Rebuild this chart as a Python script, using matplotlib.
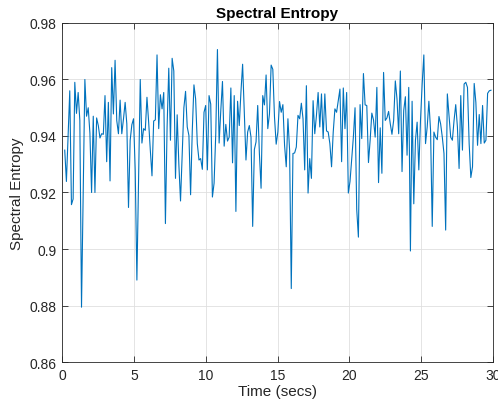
import numpy as np
import matplotlib
matplotlib.use("Agg")
import matplotlib.pyplot as plt
from matplotlib.ticker import FuncFormatter

plt.rcParams['font.family'] = ['Liberation Sans', 'DejaVu Sans']

# Spectral entropy per analysis frame
entropy_0_6 = [
    0.935, 0.9239, 0.940, 0.956, 0.9157, 0.9177, 0.959, 0.948, 0.9554, 0.9455,
    0.8794, 0.920, 0.960, 0.947, 0.950, 0.941, 0.920, 0.947, 0.920, 0.9464,
    0.9437, 0.9393, 0.9408, 0.9406, 0.9543, 0.9309, 0.9519, 0.9241, 0.9642, 0.9478,
    0.9668, 0.9455, 0.9408, 0.9527, 0.9408, 0.9460, 0.9519, 0.9443, 0.9147, 0.9385,
    0.9440, 0.9461, 0.928, 0.889, 0.925, 0.960, 0.9375, 0.9426, 0.942, 0.9537,
]
entropy_6_12 = [
    0.9450, 0.9350, 0.9259, 0.9453, 0.9457, 0.9687, 0.9426, 0.9546, 0.9496, 0.9554,
    0.9090, 0.9432, 0.9640, 0.9385, 0.9675, 0.9630, 0.9250, 0.9475, 0.9300, 0.9170,
    0.9338, 0.9500, 0.9558, 0.9432, 0.9402, 0.9192, 0.9418, 0.9581, 0.9531, 0.9373,
    0.9315, 0.9320, 0.9282, 0.9484, 0.9508, 0.9280, 0.9543, 0.9513, 0.9184, 0.9233,
    0.9408, 0.9706, 0.9375, 0.9490, 0.9593, 0.9364, 0.9441, 0.9382, 0.9396, 0.9570,
    0.9305,
]
entropy_12_18 = [
    0.9543, 0.9133, 0.9523, 0.9437, 0.9555, 0.9654, 0.9484, 0.9315, 0.9414, 0.9437,
    0.9396, 0.9080, 0.9352, 0.9379, 0.9508, 0.9338, 0.9215, 0.9543, 0.9510, 0.9616,
    0.9426, 0.9478, 0.9651, 0.9636, 0.9467, 0.9371, 0.9414, 0.9522, 0.9484, 0.9511,
    0.9367, 0.9291, 0.9461, 0.9350, 0.8860, 0.9338, 0.9340, 0.9361, 0.9473, 0.9461,
    0.9516, 0.9461, 0.9280, 0.9578, 0.9198, 0.9320, 0.9250, 0.9525, 0.9408, 0.9473,
    0.9554,
]
entropy_18_24 = [
    0.9432, 0.9549, 0.9391, 0.9549, 0.9418, 0.9414, 0.9373, 0.9291, 0.9414, 0.9496,
    0.9484, 0.9525, 0.9566, 0.9309, 0.9570, 0.9426, 0.9554, 0.9198, 0.9239, 0.9315,
    0.9396, 0.9500, 0.9140, 0.9042, 0.9511, 0.9391, 0.9621, 0.9510, 0.9508, 0.9306,
    0.9385, 0.9481, 0.9457, 0.9396, 0.9572, 0.9235, 0.9429, 0.9268, 0.9625, 0.9455,
    0.9464, 0.9487, 0.9443, 0.9406, 0.9455, 0.9595, 0.9531, 0.9408, 0.9630, 0.9274,
    0.9490,
]
entropy_24_30 = [
    0.9539, 0.9332, 0.9572, 0.8993, 0.9523, 0.9160, 0.9385, 0.9449, 0.9280, 0.9455,
    0.9584, 0.9687, 0.9373, 0.9432, 0.9523, 0.9420, 0.9080, 0.9414, 0.9396, 0.9387,
    0.9469, 0.9443, 0.9396, 0.9338, 0.9067, 0.9549, 0.9473, 0.9396, 0.9385, 0.9455,
    0.9511, 0.9432, 0.9285, 0.9543, 0.9350, 0.9584, 0.9590, 0.9572, 0.9373, 0.9253,
    0.9291, 0.9586, 0.9519, 0.9367, 0.9476, 0.9373, 0.9508, 0.9375, 0.9385, 0.9551,
    0.9560, 0.9562,
]

frame_start = 0.19   # centre time of the first frame (s)
frame_step = 0.1168  # hop between frames (s)

x_ticks = [0, 5, 10, 15, 20, 25, 30]
y_ticks = [0.86, 0.88, 0.90, 0.92, 0.94, 0.96, 0.98]

entropy = np.array(entropy_0_6 + entropy_6_12 + entropy_12_18 + entropy_18_24 + entropy_24_30)
t = frame_start + frame_step * np.arange(len(entropy))

fig = plt.figure(figsize=(4.98, 4.10), dpi=100)
ax = fig.add_axes([0.1245, 0.1146, 0.8655, 0.8269])

ax.plot(t, entropy, color='#0072BD', linewidth=0.8)

ax.set_xlim(0, 30)
ax.set_ylim(0.86, 0.98)
ax.set_xticks(x_ticks)
ax.set_yticks(y_ticks)
ax.yaxis.set_major_formatter(FuncFormatter(lambda v, p: ('%.2f' % v).rstrip('0')))

axis_col = '#262626'
ax.grid(True, color='#dfdfdf', linewidth=0.6)
ax.set_axisbelow(True)
for s in ax.spines.values():
    s.set_color('#262626')
    s.set_linewidth(0.6)
ax.tick_params(direction='in', length=4, width=0.6, colors=axis_col,
               labelsize=10, top=True, right=True, pad=4)

ax.set_title('Spectral Entropy', fontsize=11, fontweight='bold', color='black', pad=4)
ax.set_xlabel('Time (secs)', fontsize=11, color=axis_col, labelpad=2)
ax.set_ylabel('Spectral Entropy', fontsize=11, color=axis_col, labelpad=4)

fig.savefig('out.png', dpi=100)
